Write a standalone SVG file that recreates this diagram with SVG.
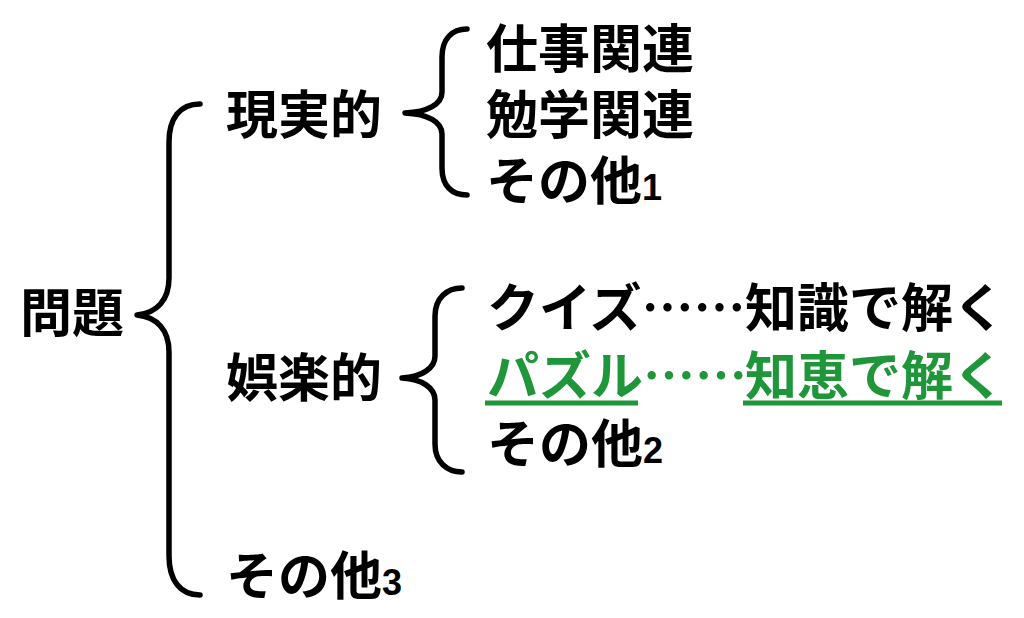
<svg xmlns="http://www.w3.org/2000/svg" width="1024" height="618" viewBox="0 0 1024 618">
  <style>
    text { font-family: "Noto Sans CJK JP", "Noto Sans", sans-serif; font-weight: bold; font-size: 52px; fill: #000; }
    .g { fill: #1e9639; }
    .num { font-family: "Liberation Sans", Arial, sans-serif; font-size: 36px; font-weight: bold; }
    .brace { fill: none; stroke: #000; stroke-width: 5.5; stroke-linecap: round; stroke-linejoin: round; }
    .ul { stroke: #1e9639; stroke-width: 5; }
  </style>
  <rect width="1024" height="618" fill="#fff"/>

  <g id="connectors">
    <path class="brace" d="M200,104 C180,104 169,118 169,142 L169,278 C169,300 157,313 137,315 C157,317 169,330 169,352 L169,556 C169,580 180,595 200,595"/>
    <path class="brace" d="M467,29 C452,29 442,39 442,57 L442,92 C442,104 428,112 405,113 C428,114 442,122 442,134 L442,168 C442,186 452,195 467,195"/>
    <path class="brace" d="M462,288 C447,288 435,298 435,316 L435,356 C435,368 422,377 402,378 C422,379 435,388 435,400 L435,444 C435,462 447,472 462,472"/>
  </g>

  <g id="mondai"><text x="20" y="332">問題</text></g>
  <g id="genjitsu"><text x="226" y="134">現実的</text></g>
  <g id="goraku"><text x="226" y="397">娯楽的</text></g>
  <g id="sonota3"><text x="226" y="595">その他<tspan class="num">3</tspan></text></g>

  <g id="shigoto"><text x="486" y="68">仕事関連</text></g>
  <g id="benkyo"><text x="486" y="134">勉学関連</text></g>
  <g id="sonota1"><text x="486" y="200">その他<tspan class="num">1</tspan></text></g>

  <g id="quiz"><text x="487" y="327">クイズ……<tspan x="745">知識で解く</tspan></text></g>
  <g id="puzzle">
    <text class="g" x="487" y="395">パズル……<tspan x="745">知恵で解く</tspan></text>
    <line class="ul" x1="485" y1="403" x2="638" y2="403"/>
    <line class="ul" x1="743" y1="403" x2="1002" y2="403"/>
  </g>
  <g id="sonota2"><text x="487" y="463">その他<tspan class="num">2</tspan></text></g>
</svg>
